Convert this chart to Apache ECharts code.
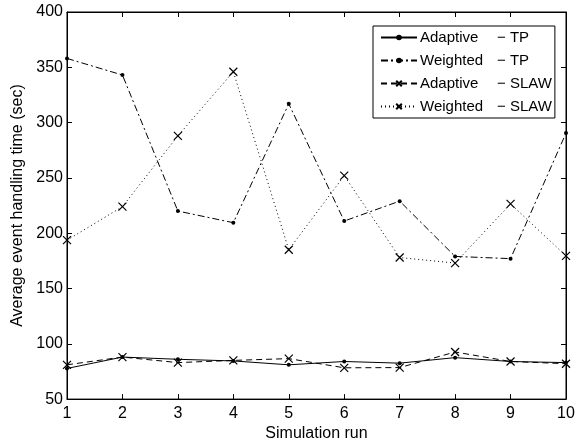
<!DOCTYPE html>
<html>
<head>
<meta charset="utf-8">
<script src="https://cdn.jsdelivr.net/npm/echarts@6/dist/echarts.min.js"></script>
<style>
html, body { margin: 0; padding: 0; background: #fff; }
#echarts { width: 585px; height: 447px; }
</style>
</head>
<body>
<div id="echarts"></div>
<script>
var runs = [1, 2, 3, 4, 5, 6, 7, 8, 9, 10];
var adaptiveTP = [77.7, 88, 86, 84.5, 81, 84, 82.5, 87.5, 84, 83];
var weightedTP = [358, 343, 220, 209.5, 317, 211, 229, 179, 177, 290.5];
var adaptiveSLAW = [81, 88, 83, 85, 86.6, 78.3, 78.5, 92.6, 84, 82];
var weightedSLAW = [193.7, 224, 288, 346, 185, 252, 178, 173, 226.5, 179.5];
var yTicks = [50, 100, 150, 200, 250, 300, 350, 400];

var myChart = echarts.init(document.getElementById('echarts'));
var font = 'Liberation Sans, Arial, sans-serif';
var cross = 'path://M0,0L10,10M10,0L0,10';

function pairs(vals) {
    var out = [];
    for (var i = 0; i < runs.length; i++) {
        out.push([runs[i], vals[i]]);
    }
    return out;
}

function makeSeries(name, vals, dash, symbol) {
    var isCross = symbol === cross;
    return {
        name: name,
        type: 'line',
        data: pairs(vals),
        symbol: symbol,
        symbolSize: isCross ? 8 : 4,
        showAllSymbol: true,
        lineStyle: { color: '#000', width: 1, type: dash },
        itemStyle: isCross
            ? { color: 'rgba(0,0,0,0)', borderColor: '#000', borderWidth: 1.2 }
            : { color: '#000', borderWidth: 0 },
        animation: false
    };
}

var option = {
    backgroundColor: '#fff',
    textStyle: { fontFamily: font },
    grid: {
        left: 67, right: 19, top: 12, bottom: 43,
        show: true, borderColor: '#000', borderWidth: 1
    },
    legend: {
        orient: 'vertical',
        left: 373,
        top: 26,
        backgroundColor: '#fff',
        borderColor: '#000',
        borderWidth: 1,
        padding: [4, 3, 4, 7],
        itemGap: 8,
        itemWidth: 36,
        itemHeight: 7,
        data: ['Adaptive − TP', 'Weighted − TP', 'Adaptive − SLAW', 'Weighted − SLAW'],
        formatter: function (name) {
            var p = name.split(' − ');
            return '{a|' + p[0] + '}{b|− ' + p[1] + '}';
        },
        textStyle: {
            color: '#000',
            fontSize: 15,
            padding: [0, 0, 0, -2],
            rich: {
                a: { width: 77, fontSize: 15, fontFamily: font, color: '#000' },
                b: { fontSize: 15, fontFamily: font, color: '#000' }
            }
        }
    },
    xAxis: [{
        type: 'value',
        min: 1, max: 10, interval: 1,
        name: 'Simulation run',
        nameLocation: 'middle',
        nameGap: 22,
        nameTextStyle: { color: '#000', fontSize: 16, fontFamily: font },
        axisLine: { lineStyle: { color: '#000' } },
        axisTick: { inside: true, length: 5, lineStyle: { color: '#000' } },
        axisLabel: { color: '#000', fontSize: 16, margin: 6, fontFamily: font },
        splitLine: { show: false }
    }, {
        type: 'value',
        position: 'top',
        min: 1, max: 10, interval: 1,
        axisLine: { lineStyle: { color: '#000' } },
        axisTick: { inside: true, length: 5, lineStyle: { color: '#000' } },
        axisLabel: { show: false },
        splitLine: { show: false }
    }],
    yAxis: [{
        type: 'value',
        min: yTicks[0], max: yTicks[yTicks.length - 1], interval: 50,
        name: 'Average event handling time (sec)',
        nameLocation: 'middle',
        nameGap: 29,
        nameTextStyle: { color: '#000', fontSize: 16, fontFamily: font },
        axisLine: { show: true, lineStyle: { color: '#000' } },
        axisTick: { show: true, inside: true, length: 5, lineStyle: { color: '#000' } },
        axisLabel: { color: '#000', fontSize: 16, margin: 4, fontFamily: font },
        splitLine: { show: false }
    }, {
        type: 'value',
        position: 'right',
        min: yTicks[0], max: yTicks[yTicks.length - 1], interval: 50,
        axisLine: { show: true, lineStyle: { color: '#000' } },
        axisTick: { show: true, inside: true, length: 5, lineStyle: { color: '#000' } },
        axisLabel: { show: false },
        splitLine: { show: false }
    }],
    series: [
        makeSeries('Adaptive − TP', adaptiveTP, 'solid', 'circle'),
        makeSeries('Weighted − TP', weightedTP, [7, 3, 2, 3], 'circle'),
        makeSeries('Adaptive − SLAW', adaptiveSLAW, [6, 4], cross),
        makeSeries('Weighted − SLAW', weightedSLAW, [1, 3], cross)
    ]
};
myChart.setOption(option);
</script>
</body>
</html>
